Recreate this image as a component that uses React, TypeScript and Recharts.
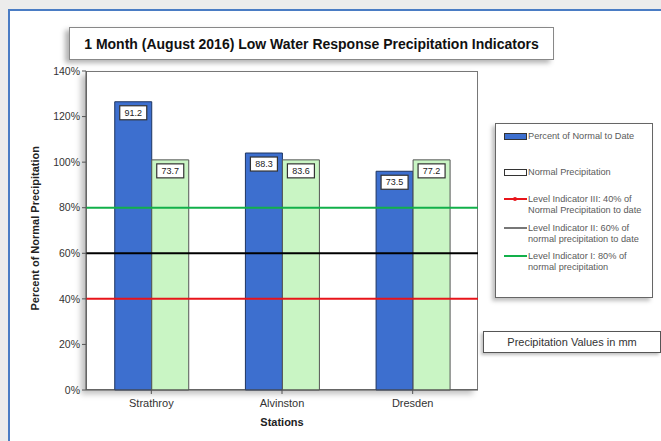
import { ComposedChart, Bar, XAxis, YAxis, ReferenceLine, LabelList } from 'recharts';

const stations = ['Strathroy', 'Alvinston', 'Dresden'];
const percentToDate = [126.5, 104, 96];
const normalPct = [101, 101, 101];
const toDateMm = ['91.2', '88.3', '73.5'];
const normalMm = ['73.7', '83.6', '77.2'];
const yTicks = [0, 20, 40, 60, 80, 100, 120, 140];
const levels = [
    { y: 40, color: '#e8141a' },
    { y: 60, color: '#000000' },
    { y: 80, color: '#12b04a' },
];
const legendItems = [
    { kind: 'bar', fill: '#3d6fcf', lines: ['Percent of Normal to Date'] },
    { kind: 'box', fill: '#ffffff', lines: ['Normal Precipitation'] },
    { kind: 'line', fill: '#e8141a', lines: ['Level Indicator III: 40% of', 'Normal Precipitation to date'] },
    { kind: 'line', fill: '#777777', lines: ['Level Indicator II: 60% of', 'normal precipitation to date'] },
    { kind: 'line', fill: '#12b04a', lines: ['Level Indicator I: 80% of', 'normal precipitation'] },
];

const data = stations.map((name, i) => ({
    name,
    toDate: percentToDate[i],
    normal: normalPct[i],
    toDateMm: toDateMm[i],
    normalMm: normalMm[i],
}));

const font = '"Liberation Sans", Arial, sans-serif';

// boxed value label drawn a bit below the top of each bar
function BoxLabel(props: any) {
    const { x, y, width, value } = props;
    const w = 27;
    const h = 14;
    const cx = x + width / 2;
    return (
        <g>
            <rect x={cx - w / 2} y={y + 4} width={w} height={h} fill="#fff" stroke="#333" strokeWidth={1.2} />
            <text x={cx} y={y + 4 + h / 2 + 3.2} textAnchor="middle" fontSize={9} fill="#222" fontFamily={font}>
                {value}
            </text>
        </g>
    );
}

function Legend() {
    let top = 0;
    const gaps = [7, 36, 27, 29, 28];
    return (
        <div style={{
            position: 'absolute', left: 495, top: 123, width: 158, height: 175,
            background: '#fff', border: '1px solid #666', boxShadow: '-3px 3px 4px rgba(0,0,0,0.25)',
            fontFamily: font, fontSize: 9.2, color: '#5a5a5a', boxSizing: 'border-box',
        }}>
            {legendItems.map((it, i) => {
                top += gaps[i];
                return (
                    <div key={i} style={{ position: 'absolute', left: 8, top, display: 'flex', alignItems: 'flex-start' }}>
                        <div style={{ width: 24, height: 10, display: 'flex', alignItems: 'center', flexShrink: 0 }}>
                            {it.kind === 'line' ? (
                                <div style={{ position: 'relative', width: 23, height: 2, background: it.fill }}>
                                    {i === 2 && <div style={{ position: 'absolute', left: 9, top: -1, width: 4, height: 4, background: it.fill, borderRadius: 2 }} />}
                                </div>
                            ) : (
                                <div style={{ width: 21, height: 5, background: it.fill, border: '1px solid #333' }} />
                            )}
                        </div>
                        <div style={{ lineHeight: '10.5px', whiteSpace: 'nowrap' }}>
                            {it.lines.map((l, j) => <div key={j}>{l}</div>)}
                        </div>
                    </div>
                );
            })}
        </div>
    );
}

export default function App() {
    return (
        <div style={{ position: 'absolute', left: 0, top: 0, width: 661, height: 441, background: '#ececec', overflow: 'hidden' }}>
            <div style={{
                position: 'absolute', left: 8, top: 9, width: 670, height: 450,
                background: '#fff', border: '2px solid #4a7cc4',
            }} />
            {/* title */}
            <div style={{
                position: 'absolute', left: 69, top: 27, width: 483, height: 31,
                background: '#fff', border: '1px solid #888', boxShadow: '-4px 3px 5px rgba(0,0,0,0.3)',
                fontFamily: font, fontSize: 14, fontWeight: 'bold', color: '#111',
                display: 'flex', alignItems: 'center', justifyContent: 'center', whiteSpace: 'nowrap',
            }}>
                1 Month (August 2016) Low Water Response Precipitation Indicators
            </div>
            {/* plot area frame */}
            <div style={{
                position: 'absolute', left: 86, top: 71, width: 392, height: 319,
                background: '#fff', border: '1px solid #777', boxSizing: 'border-box',
                boxShadow: '-5px 4px 6px rgba(0,0,0,0.25)',
            }} />
            <div style={{ position: 'absolute', left: 0, top: 0 }}>
                <ComposedChart
                    width={661}
                    height={441}
                    data={data}
                    margin={{ top: 71, right: 183, bottom: 21, left: 46 }}
                    barGap={0}
                    barCategoryGap="22%"
                >
                    <XAxis
                        dataKey="name"
                        height={30}
                        tickLine={{ stroke: '#555' }}
                        axisLine={{ stroke: '#555' }}
                        tick={{ fill: '#333', fontSize: 11, fontFamily: font }}
                        tickSize={4}
                        dy={3}
                        label={{ value: 'Stations', position: 'insideBottom', offset: -6, fill: '#222', fontSize: 11, fontWeight: 'bold', fontFamily: font }}
                    />
                    <YAxis
                        width={40}
                        domain={[0, 140]}
                        ticks={yTicks}
                        tickFormatter={(v) => `${v}%`}
                        tickLine={{ stroke: '#555' }}
                        axisLine={{ stroke: '#555' }}
                        tick={{ fill: '#333', fontSize: 10.5, fontFamily: font }}
                        tickSize={4}
                        label={{
                            value: 'Percent of Normal Precipitation', angle: -90, position: 'insideLeft',
                            dx: -16, dy: 80, fill: '#222', fontSize: 11, fontWeight: 'bold', fontFamily: font,
                        }}
                    />
                    {levels.map((l) => (
                        <ReferenceLine key={l.y} y={l.y} stroke={l.color} strokeWidth={2} ifOverflow="extendDomain" />
                    ))}
                    <Bar dataKey="toDate" fill="#3d6fcf" stroke="#1e3560" strokeWidth={1} isAnimationActive={false}>
                        <LabelList dataKey="toDateMm" content={<BoxLabel />} />
                    </Bar>
                    <Bar dataKey="normal" fill="#c9f5c4" stroke="#555" strokeWidth={1} isAnimationActive={false}>
                        <LabelList dataKey="normalMm" content={<BoxLabel />} />
                    </Bar>
                </ComposedChart>
            </div>
            <Legend />
            <div style={{
                position: 'absolute', left: 483, top: 331, width: 176, height: 20,
                background: '#fff', border: '1px solid #555', boxShadow: '-2px 2px 3px rgba(0,0,0,0.25)',
                fontFamily: font, fontSize: 11, color: '#333',
                display: 'flex', alignItems: 'center', justifyContent: 'center', whiteSpace: 'nowrap',
            }}>
                Precipitation Values in mm
            </div>
        </div>
    );
}
